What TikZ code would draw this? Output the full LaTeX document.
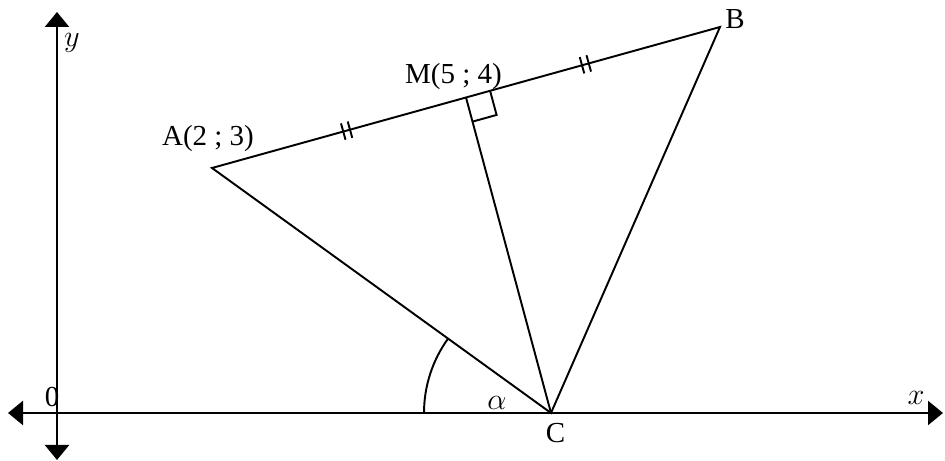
\documentclass[tikz,border=0pt]{standalone}
\usepackage{fontspec}
\setmainfont{Liberation Serif}
\usetikzlibrary{calc,arrows.meta,angles}

\begin{document}
\begin{tikzpicture}[line width=1.1pt, >={Triangle[length=0.3cm, width=0.48cm]},
    lbl/.style={font=\fontsize{16.5}{18}\selectfont, inner sep=0pt}]

        % ==========================================
        % 1. Assi coordinati
        % ==========================================
        \useasboundingbox (0,0) rectangle (18.9,9.22);

        \coordinate (xl) at (0.16, 0.96);
        \coordinate (xr) at (18.86, 0.96);
        \coordinate (yb) at (1.14, 0.02);
        \coordinate (yt) at (1.14, 8.98);

        \draw[<->, line width=1.3pt] (xl) -- (xr);
        \draw[<->, line width=1.3pt] (yb) -- (yt);

        \node[lbl] (lx) at (18.32, 1.26) {$x$};
        \node[lbl] (ly) at (1.44, 8.36) {$y$};
        \node[lbl] (lo) at (1.04, 1.28) {0};

        % ==========================================
        % 2. Triangolo ABC e mediana CM
        % ==========================================
        \coordinate (A) at (4.24, 5.86);
        \coordinate (B) at (14.40, 8.68);
        \coordinate (C) at (11.02, 0.96);
        \coordinate (M) at ($(A)!0.5!(B)$);

        \draw (A) -- (B) -- (C) -- cycle;
        \draw (M) -- (C);

        \node[lbl] (lA) at (4.16, 6.44) {A(2 ; 3)};
        \node[lbl] (lM) at (9.07, 7.68) {M(5 ; 4)};
        \node[lbl] (lB) at (14.70, 8.84) {B};
        \node[lbl] (lC) at (11.11, 0.56) {C};

        % angolo retto in M
        \coordinate (m1) at ($(M)!0.5cm!(B)$);
        \coordinate (m3) at ($(M)!0.5cm!(C)$);
        \draw (m1) -- ($(m1)+(m3)-(M)$) -- (m3);

        % segni di uguaglianza su AM e MB
        \foreach \t in {0.265, 0.735}{
            \foreach \d in {-0.07, 0.07}{
                \draw[shift={($(A)!\t!(B)$)}, rotate=15.5] (\d,-0.17) -- (\d,0.17);
            }
        }

        % ==========================================
        % 3. Angolo alpha
        % ==========================================
        \pic[draw, line width=1.1pt, angle radius=2.54cm] {angle=A--C--xl};
        \node[lbl] (lal) at (9.94, 1.16) {$\alpha$};

    \end{tikzpicture}
\end{document}
